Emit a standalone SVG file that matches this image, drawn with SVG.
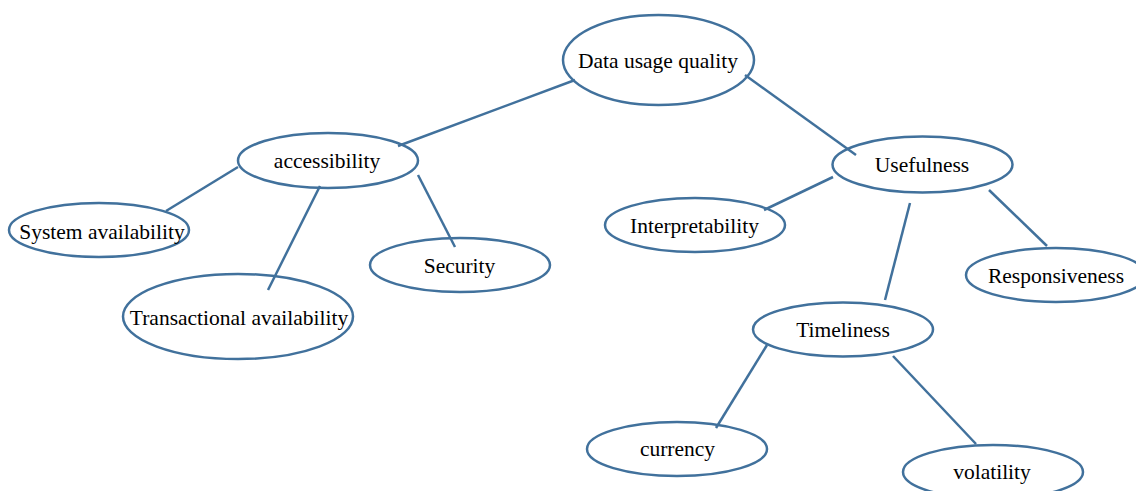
<svg xmlns="http://www.w3.org/2000/svg" width="1136" height="491" viewBox="0 0 1136 491">
<style>
.n ellipse{fill:#fff;stroke:#41719C;stroke-width:2.5}
.n text{font-family:"Liberation Serif","Times New Roman",serif;font-size:21.5px;fill:#000;text-anchor:middle}
.c line{stroke:#41719C;stroke-width:2.5}
</style>
<rect width="1136" height="491" fill="#fff"/>
<g id="dataUsageQuality" class="n"><ellipse cx="658.5" cy="60" rx="95.5" ry="45"/><text x="658" y="68">Data usage quality</text></g>
<g id="accessibility" class="n"><ellipse cx="328" cy="160.5" rx="90" ry="27.5"/><text x="327" y="168">accessibility</text></g>
<g id="systemAvailability" class="n"><ellipse cx="99" cy="230" rx="90" ry="27"/><text x="102" y="239">System availability</text></g>
<g id="transactionalAvailability" class="n"><ellipse cx="238" cy="316.5" rx="115" ry="42.5"/><text x="239" y="325">Transactional availability</text></g>
<g id="security" class="n"><ellipse cx="460" cy="265" rx="90" ry="27"/><text x="459.5" y="273">Security</text></g>
<g id="usefulness" class="n"><ellipse cx="922.5" cy="164.5" rx="90" ry="28"/><text x="922" y="172">Usefulness</text></g>
<g id="interpretability" class="n"><ellipse cx="695" cy="225" rx="90" ry="27"/><text x="694.5" y="233">Interpretability</text></g>
<g id="responsiveness" class="n"><ellipse cx="1056" cy="275" rx="90" ry="27"/><text x="1056" y="283">Responsiveness</text></g>
<g id="timeliness" class="n"><ellipse cx="843" cy="329.5" rx="90" ry="27"/><text x="843" y="337">Timeliness</text></g>
<g id="currency" class="n"><ellipse cx="677" cy="449" rx="90" ry="27"/><text x="677.5" y="456">currency</text></g>
<g id="volatility" class="n"><ellipse cx="993" cy="472" rx="90" ry="27"/><text x="992" y="479">volatility</text></g>
<g class="c">
<line x1="398" y1="146" x2="575" y2="80"/>
<line x1="238" y1="167" x2="166" y2="211"/>
<line x1="320" y1="186" x2="268" y2="290"/>
<line x1="418" y1="175" x2="455" y2="247"/>
<line x1="745" y1="75" x2="856" y2="155"/>
<line x1="833" y1="177" x2="764" y2="210"/>
<line x1="910" y1="203" x2="885" y2="300"/>
<line x1="989" y1="190" x2="1047" y2="246"/>
<line x1="767" y1="345" x2="716" y2="428"/>
<line x1="893" y1="356" x2="976" y2="444"/>
</g>
</svg>
